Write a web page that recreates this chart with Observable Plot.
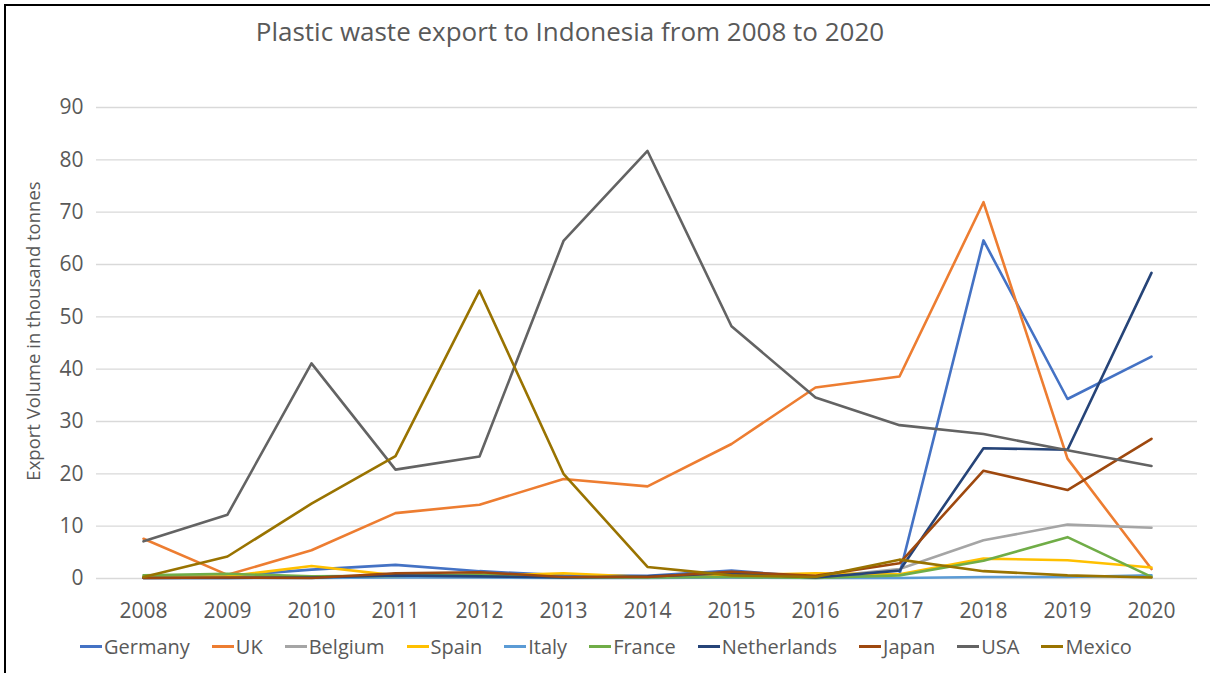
<!DOCTYPE html>
<html>
<head>
<meta charset="utf-8">
<script src="https://cdn.jsdelivr.net/npm/d3@7"></script>
<script src="https://cdn.jsdelivr.net/npm/@observablehq/plot@0.6"></script>
<style>
  html, body { margin: 0; padding: 0; background: #fff; overflow: hidden; }
  #wrap { position: relative; width: 1210px; height: 673px; overflow: hidden; font-family: "Open Sans", sans-serif; color: #595959; }
  #topline { position: absolute; left: 4px; top: 4px; width: 1206px; height: 2px; background: #000; }
  #leftline { position: absolute; left: 4px; top: 4px; width: 2px; height: 669px; background: #000; }
  #title { position: absolute; left: 0; top: 13px; width: 1140px; text-align: center; font-size: 26px; color: #595959; }
  #ylabel { position: absolute; left: 32px; top: 331px; transform: translate(-50%, -50%) rotate(-90deg); white-space: nowrap; font-size: 18.5px; }
  #legend { position: absolute; left: 80px; top: 633px; display: flex; gap: 22px; font-size: 20px; white-space: nowrap; }
  #legend .item { display: flex; align-items: center; }
  #legend .sw { width: 22px; height: 3px; margin-right: 2px; }
  #chart { position: absolute; left: 0; top: 0; width: 1210px; height: 673px; }
  #chart svg { display: block; }
</style>
</head>
<body>
<div id="wrap">
  <div id="chart"></div>
  <div id="topline"></div>
  <div id="leftline"></div>
  <div id="title">Plastic waste export to Indonesia from 2008 to 2020</div>
  <div id="ylabel">Export Volume in thousand tonnes</div>
  <div id="legend"></div>
</div>
<script>
const years = ["2008","2009","2010","2011","2012","2013","2014","2015","2016","2017","2018","2019","2020"];
const countries = ["Germany","UK","Belgium","Spain","Italy","France","Netherlands","Japan","USA","Mexico"];
const colors = ["#4472C4","#ED7D31","#A5A5A5","#FFC000","#5B9BD5","#70AD47","#264478","#9E480E","#636363","#997300"];
const yTicks = [0,10,20,30,40,50,60,70,80,90];

const germany     = [0.2, 0.5, 1.7, 2.6, 1.4, 0.6, 0.5, 1.5, 0.3, 0.8, 64.6, 34.3, 42.4];
const uk          = [7.6, 0.7, 5.4, 12.5, 14.1, 19.0, 17.6, 25.7, 36.5, 38.6, 71.9, 22.9, 1.8];
const belgium     = [0.3, 0.3, 0.2, 0.3, 0.3, 0.2, 0.2, 0.2, 0.2, 1.8, 7.3, 10.3, 9.7];
const spain       = [0.2, 0.4, 2.4, 0.6, 0.5, 1.0, 0.3, 0.6, 1.0, 0.8, 3.8, 3.5, 2.1];
const italy       = [0.1, 0.1, 0.1, 0.2, 0.2, 0.1, 0.1, 0.2, 0.1, 0.1, 0.3, 0.3, 0.6];
const france      = [0.6, 0.9, 0.4, 0.5, 0.8, 0.2, 0.2, 0.3, 0.1, 0.6, 3.4, 7.9, 0.3];
const netherlands = [0.1, 0.1, 0.2, 0.6, 0.4, 0.2, 0.4, 1.0, 0.2, 1.5, 24.9, 24.6, 58.4];
const japan       = [0.1, 0.2, 0.1, 1.0, 1.2, 0.3, 0.3, 1.3, 0.5, 2.9, 20.6, 16.9, 26.7];
const usa         = [7.1, 12.2, 41.1, 20.8, 23.3, 64.5, 81.7, 48.2, 34.6, 29.3, 27.6, 24.5, 21.5];
const mexico      = [0.3, 4.2, 14.3, 23.4, 55.0, 20.0, 2.2, 0.6, 0.3, 3.6, 1.4, 0.6, 0.2];

const series = [germany, uk, belgium, spain, italy, france, netherlands, japan, usa, mexico];

const data = [];
countries.forEach((c, i) => {
  years.forEach((yr, j) => data.push({country: c, year: yr, value: series[i][j]}));
});

const plot = Plot.plot({
  width: 1210,
  height: 673,
  marginLeft: 96,
  marginRight: 13,
  marginTop: 107,
  marginBottom: 95,
  style: { fontFamily: "'Open Sans', sans-serif", fontSize: "21px", color: "#595959", background: "transparent", overflow: "visible" },
  x: { type: "point", domain: years, padding: 0.5, label: null, tickSize: 0, tickPadding: 25 },
  y: { domain: [0, 90], ticks: yTicks, label: null, tickSize: 0, tickPadding: 13 },
  color: { domain: countries, range: colors },
  marks: [
    Plot.ruleY(yTicks, { stroke: "#d9d9d9", strokeWidth: 1.3 }),
    Plot.line(data, { x: "year", y: "value", z: "country", stroke: "country", strokeWidth: 2.6, strokeLinejoin: "round", strokeLinecap: "round" })
  ]
});
plot.querySelectorAll("text").forEach(t => t.setAttribute("fill", "#595959"));
document.getElementById("chart").appendChild(plot);

const legend = document.getElementById("legend");
countries.forEach((c, i) => {
  const item = document.createElement("div");
  item.className = "item";
  const sw = document.createElement("span");
  sw.className = "sw";
  sw.style.background = colors[i];
  const tx = document.createElement("span");
  tx.textContent = c;
  item.appendChild(sw);
  item.appendChild(tx);
  legend.appendChild(item);
});
</script>
</body>
</html>
